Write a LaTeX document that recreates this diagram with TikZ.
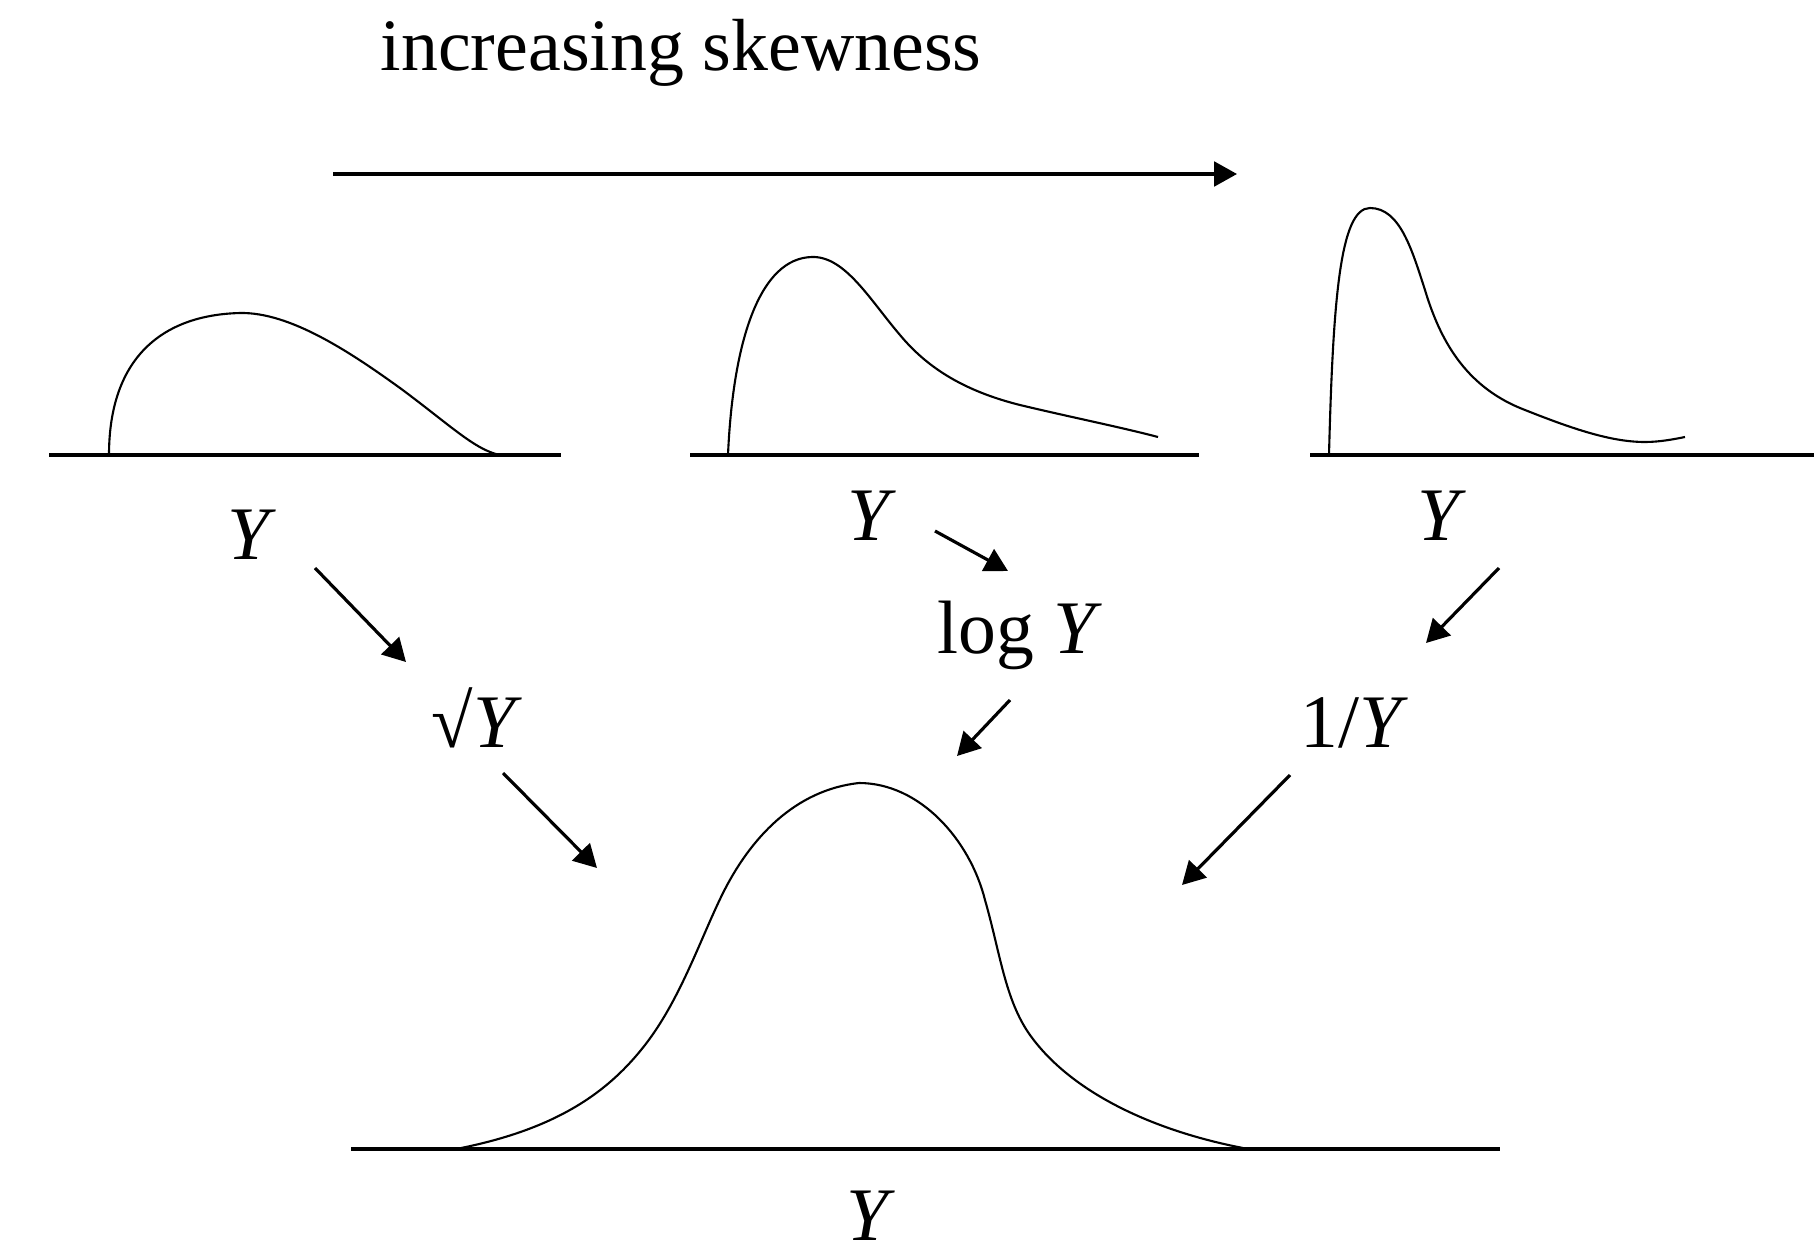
\documentclass[tikz,border=0pt]{standalone}
\usepackage{fontspec}
\setmainfont{Liberation Serif}
\usetikzlibrary{arrows.meta}
\begin{document}
\begin{tikzpicture}[x=0.01cm,y=-0.01cm,
  lbl/.style={inner sep=0pt,anchor=base,font=\fontsize{21.5}{26}\selectfont},
  axisline/.style={line width=1pt},
  curve/.style={line width=0.6pt,line join=round},
  arr/.style={line width=0.9pt,-{Triangle[length=6.5pt,width=7pt]}}]
\useasboundingbox (0,0) rectangle (1814,1254);

% title and top arrow
\node[lbl,anchor=base west,font=\fontsize{21}{26}\selectfont] (title) at (380,70) {increasing skewness};
\coordinate (ts) at (333,174);
\coordinate (te) at (1237,174);
\draw[arr] (ts) -- (te);

% axes
\draw[axisline] (49,455) -- (561,455);
\draw[axisline] (690,455) -- (1199,455);
\draw[axisline] (1310,455) -- (1814,455);
\draw[axisline] (351,1149) -- (1500,1149);

% curve 1
\draw[curve] (109,455) .. controls (109,360) and (160,315) .. (240,313)
  .. controls (290,312) and (350,352) .. (400,388)
  .. controls (450,425) and (475,450) .. (500,455);
% curve 2
\draw[curve] (728,455) .. controls (733,340) and (760,258) .. (812,257)
  .. controls (845,256) and (870,300) .. (900,335)
  .. controls (925,365) and (960,390) .. (1020,405)
  .. controls (1070,417) and (1120,427) .. (1158,437);
% curve 3
\draw[curve] (1329,455) .. controls (1333,300) and (1340,208) .. (1370,208)
  .. controls (1400,208) and (1412,250) .. (1425,290)
  .. controls (1440,340) and (1465,385) .. (1520,408)
  .. controls (1570,428) and (1610,442) .. (1645,442)
  .. controls (1660,442) and (1675,439) .. (1685,437);
% bottom curve
\draw[curve] (461,1148) .. controls (560,1128) and (610,1090) .. (645,1045)
  .. controls (680,1000) and (700,940) .. (722,895)
  .. controls (750,838) and (795,790) .. (859,783)
  .. controls (920,783) and (970,840) .. (985,900)
  .. controls (1000,952) and (1005,1000) .. (1030,1035)
  .. controls (1070,1091) and (1150,1130) .. (1243,1148);

% labels
\node[lbl] (y1) at (252,559) {\textit{Y}};
\node[lbl] (y2) at (872,540) {\textit{Y}};
\node[lbl] (y3) at (1442,540) {\textit{Y}};
\node[lbl] (logy) at (1020,653) {log \textit{Y}};
\node[lbl] (sqrty) at (477,747) {√\textit{Y}};
\node[lbl] (invy) at (1354,747) {1/\textit{Y}};
\node[lbl] (ybot) at (871,1240) {\textit{Y}};

% arrow endpoints
\coordinate (a1s) at (315,568); \coordinate (a1e) at (406,662);
\coordinate (a2s) at (935,531); \coordinate (a2e) at (1008,571);
\coordinate (a3s) at (1499,568); \coordinate (a3e) at (1426,643);
\coordinate (a4s) at (1010,700); \coordinate (a4e) at (957,756);
\coordinate (a5s) at (503,773); \coordinate (a5e) at (597,868);
\coordinate (a6s) at (1290,775); \coordinate (a6e) at (1182,885);

\draw[arr] (a1s) -- (a1e);
\draw[arr] (a2s) -- (a2e);
\draw[arr] (a3s) -- (a3e);
\draw[arr] (a4s) -- (a4e);
\draw[arr] (a5s) -- (a5e);
\draw[arr] (a6s) -- (a6e);
\end{tikzpicture}
\end{document}
